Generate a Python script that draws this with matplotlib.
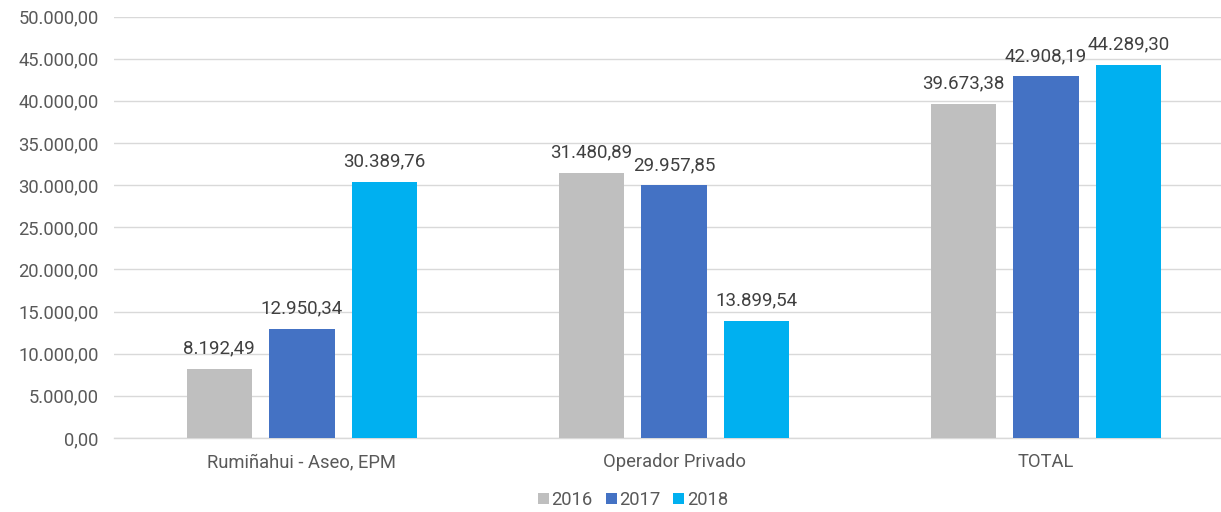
import numpy as np
import matplotlib
matplotlib.use("Agg")
import matplotlib.pyplot as plt
from matplotlib.ticker import FuncFormatter, MultipleLocator

plt.rcParams['font.family'] = ['Roboto', 'DejaVu Sans']

# Data
categories = ["Rumiñahui - Aseo, EPM", "Operador Privado", "TOTAL"]
years = ["2016", "2017", "2018"]
values_2016 = [8192.49, 31480.89, 39673.38]
values_2017 = [12950.34, 29957.85, 42908.19]
values_2018 = [30389.76, 13899.54, 44289.30]
colors = ["#BFBFBF", "#4472C4", "#00B0F0"]


def es_format(v, pos=None):
    # Spanish number format: 12.345,67
    s = f"{v:,.2f}"
    return s.replace(",", "X").replace(".", ",").replace("X", ".")


fig = plt.figure(figsize=(12.21, 5.12), dpi=100)
ax = fig.add_axes([114 / 1221, 74 / 512, 1 - 114 / 1221, 421.5 / 512])

x = np.arange(len(categories))
width = 0.176
step = 0.222
series = [values_2016, values_2017, values_2018]

for i, (vals, year, col) in enumerate(zip(series, years, colors)):
    bars = ax.bar(x + (i - 1) * step, vals, width, color=col, label=year, zorder=3)
    for b, v in zip(bars, vals):
        ax.annotate(es_format(v), (b.get_x() + b.get_width() / 2, v),
                    xytext=(0, 8), textcoords="offset points",
                    ha="center", va="bottom", fontsize=13.5, color="#404040")

ax.set_xlim(-0.505, 2.47)
ax.set_ylim(0, 50000)
ax.yaxis.set_major_locator(MultipleLocator(5000))
ax.yaxis.set_major_formatter(FuncFormatter(es_format))
ax.set_xticks(x)
ax.set_xticklabels(categories)

ax.grid(axis="y", color="#D9D9D9", linewidth=1, zorder=0)
for side in ["top", "right", "left"]:
    ax.spines[side].set_visible(False)
ax.spines["bottom"].set_color("#D9D9D9")
ax.spines["bottom"].set_linewidth(1)
ax.tick_params(axis="both", length=0, labelsize=13.2, colors="#595959")
ax.tick_params(axis="y", pad=11)
ax.tick_params(axis="x", pad=11)

fig.legend(loc="center", bbox_to_anchor=(633 / 1221, 1 - 500 / 512), ncol=3,
           frameon=False, fontsize=13.2, handlelength=0.6, handleheight=0.6,
           handletextpad=0.15, columnspacing=0.7, labelcolor="#595959")

fig.savefig("out.png", dpi=100)
